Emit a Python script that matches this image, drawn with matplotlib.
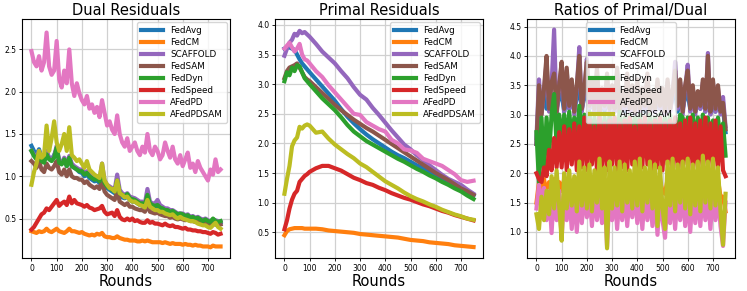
import numpy as np
import matplotlib.pyplot as plt

methods = ["FedAvg", "FedCM", "SCAFFOLD", "FedSAM", "FedDyn", "FedSpeed", "AFedPD", "AFedPDSAM"]
colors = ["tab:blue", "tab:orange", "tab:purple", "tab:brown",
          "tab:green", "tab:red", "tab:pink", "tab:olive"]

# dual residuals, one value every 10 rounds
rounds = np.arange(0, 751, 10)

dual_fedavg = [1.36, 1.30, 1.25, 1.32, 1.22, 1.20, 1.28, 1.22, 1.20, 1.25,
               1.32, 1.18, 1.15, 1.20, 1.12, 1.22, 1.12, 1.10, 1.08, 1.05,
               1.04, 1.00, 1.02, 0.98, 0.96, 0.94, 0.95, 0.92, 1.02, 0.90,
               0.86, 0.84, 0.82, 0.80, 0.88, 0.78, 0.75, 0.74, 0.76, 0.72,
               0.70, 0.70, 0.68, 0.66, 0.65, 0.64, 0.72, 0.65, 0.63, 0.62,
               0.62, 0.60, 0.60, 0.58, 0.57, 0.55, 0.56, 0.54, 0.52, 0.53,
               0.52, 0.50, 0.51, 0.49, 0.50, 0.48, 0.49, 0.47, 0.46, 0.47,
               0.45, 0.44, 0.46, 0.45, 0.44, 0.45]
dual_fedcm = [0.35, 0.34, 0.33, 0.35, 0.34, 0.35, 0.38, 0.35, 0.34, 0.36,
              0.38, 0.35, 0.34, 0.33, 0.35, 0.38, 0.35, 0.35, 0.34, 0.33,
              0.34, 0.32, 0.31, 0.30, 0.31, 0.30, 0.32, 0.31, 0.33, 0.29,
              0.28, 0.28, 0.27, 0.27, 0.29, 0.27, 0.26, 0.25, 0.25, 0.24,
              0.24, 0.24, 0.23, 0.23, 0.24, 0.23, 0.24, 0.23, 0.22, 0.22,
              0.22, 0.22, 0.21, 0.22, 0.21, 0.20, 0.21, 0.20, 0.20, 0.20,
              0.19, 0.20, 0.19, 0.19, 0.18, 0.19, 0.18, 0.18, 0.17, 0.17,
              0.17, 0.16, 0.18, 0.17, 0.17, 0.17]
dual_scaffold = [1.30, 1.26, 1.22, 1.30, 1.20, 1.18, 1.30, 1.22, 1.20, 1.24,
                 1.36, 1.18, 1.16, 1.22, 1.14, 1.24, 1.15, 1.12, 1.10, 1.08,
                 1.08, 1.04, 1.06, 1.02, 1.00, 0.98, 1.00, 0.96, 1.15, 0.95,
                 0.90, 0.88, 0.86, 0.84, 1.02, 0.84, 0.80, 0.78, 0.80, 0.76,
                 0.75, 0.74, 0.72, 0.70, 0.70, 0.68, 0.85, 0.70, 0.68, 0.68,
                 0.72, 0.66, 0.64, 0.62, 0.62, 0.60, 0.60, 0.58, 0.56, 0.56,
                 0.56, 0.54, 0.55, 0.52, 0.53, 0.51, 0.52, 0.50, 0.49, 0.50,
                 0.48, 0.47, 0.49, 0.48, 0.47, 0.46]
dual_fedsam = [1.18, 1.15, 1.10, 1.18, 1.08, 1.05, 1.15, 1.10, 1.08, 1.12,
               1.18, 1.05, 1.02, 1.08, 1.00, 1.08, 1.00, 0.98, 0.98, 0.96,
               0.96, 0.92, 0.94, 0.90, 0.88, 0.86, 0.88, 0.85, 0.95, 0.82,
               0.78, 0.76, 0.74, 0.72, 0.82, 0.70, 0.68, 0.66, 0.68, 0.64,
               0.64, 0.62, 0.61, 0.60, 0.60, 0.58, 0.66, 0.58, 0.57, 0.56,
               0.57, 0.55, 0.54, 0.53, 0.53, 0.51, 0.52, 0.50, 0.49, 0.50,
               0.49, 0.48, 0.49, 0.47, 0.47, 0.46, 0.46, 0.45, 0.44, 0.45,
               0.43, 0.42, 0.44, 0.43, 0.42, 0.43]
dual_feddyn = [1.30, 1.24, 1.20, 1.28, 1.18, 1.16, 1.26, 1.20, 1.18, 1.22,
               1.34, 1.16, 1.14, 1.20, 1.12, 1.22, 1.12, 1.10, 1.08, 1.06,
               1.06, 1.02, 1.04, 1.00, 0.98, 0.96, 0.97, 0.94, 1.08, 0.92,
               0.88, 0.86, 0.84, 0.82, 0.95, 0.80, 0.78, 0.76, 0.79, 0.74,
               0.73, 0.72, 0.70, 0.68, 0.68, 0.66, 0.78, 0.68, 0.66, 0.65,
               0.66, 0.63, 0.62, 0.60, 0.60, 0.58, 0.59, 0.57, 0.55, 0.56,
               0.55, 0.53, 0.54, 0.51, 0.52, 0.50, 0.51, 0.49, 0.47, 0.49,
               0.47, 0.46, 0.50, 0.47, 0.46, 0.47]
dual_fedspeed = [0.37, 0.40, 0.45, 0.50, 0.55, 0.57, 0.62, 0.60, 0.64, 0.68,
                 0.72, 0.65, 0.68, 0.70, 0.66, 0.76, 0.68, 0.72, 0.68, 0.67,
                 0.66, 0.64, 0.66, 0.63, 0.62, 0.60, 0.61, 0.62, 0.65, 0.58,
                 0.55, 0.56, 0.57, 0.53, 0.60, 0.52, 0.49, 0.48, 0.50, 0.48,
                 0.50, 0.47, 0.48, 0.46, 0.45, 0.45, 0.48, 0.45, 0.46, 0.44,
                 0.44, 0.43, 0.42, 0.44, 0.42, 0.41, 0.42, 0.40, 0.40, 0.39,
                 0.38, 0.39, 0.37, 0.37, 0.36, 0.36, 0.35, 0.35, 0.34, 0.34,
                 0.33, 0.32, 0.34, 0.33, 0.31, 0.32]
dual_afedpd = [2.48, 2.35, 2.30, 2.42, 2.25, 2.35, 2.70, 2.30, 2.20, 2.25,
               2.60, 2.15, 2.05, 2.25, 2.10, 2.50, 2.10, 1.95, 2.10, 1.98,
               1.90, 1.85, 1.95, 1.80, 1.85, 1.75, 1.82, 1.70, 1.90, 1.75,
               1.60, 1.65, 1.55, 1.50, 1.72, 1.50, 1.40, 1.35, 1.45, 1.30,
               1.35, 1.40, 1.30, 1.25, 1.35, 1.28, 1.50, 1.30, 1.25, 1.35,
               1.30, 1.20, 1.25, 1.40, 1.30, 1.22, 1.35, 1.20, 1.15, 1.25,
               1.12, 1.20, 1.28, 1.10, 1.15, 1.05, 1.18, 1.10, 1.05, 1.00,
               0.95, 1.08, 1.02, 1.20, 1.05, 1.08]
dual_afedpdsam = [0.90, 1.05, 1.15, 1.30, 1.22, 1.25, 1.60, 1.30, 1.45, 1.65,
                  1.40, 1.30, 1.38, 1.50, 1.30, 1.58, 1.25, 1.22, 1.18, 1.20,
                  1.15, 1.10, 1.18, 1.08, 1.05, 1.02, 1.00, 0.98, 1.15, 0.95,
                  0.90, 0.86, 0.85, 0.82, 0.95, 0.80, 0.78, 0.75, 0.76, 0.72,
                  0.70, 0.70, 0.68, 0.66, 0.65, 0.63, 0.72, 0.64, 0.62, 0.60,
                  0.60, 0.58, 0.58, 0.56, 0.55, 0.54, 0.55, 0.52, 0.50, 0.52,
                  0.50, 0.49, 0.48, 0.47, 0.47, 0.46, 0.44, 0.43, 0.42, 0.42,
                  0.40, 0.39, 0.42, 0.45, 0.40, 0.38]

# primal residuals (smooth curves), denser at the start
rounds_p = np.array([0, 10, 20, 30, 40, 50, 60, 70, 80, 90, 100] + list(range(125, 751, 25)))

primal_fedavg = [3.60, 3.62, 3.62, 3.60, 3.58, 3.50, 3.42, 3.35, 3.30, 3.25, 3.20,
                 3.08, 2.96, 2.84, 2.72, 2.58, 2.45, 2.34, 2.24, 2.15, 2.07,
                 2.00, 1.93, 1.86, 1.80, 1.75, 1.69, 1.63, 1.58, 1.52, 1.47,
                 1.41, 1.36, 1.30, 1.24, 1.18, 1.12]
primal_fedcm = [0.45, 0.52, 0.55, 0.56, 0.57, 0.57, 0.57, 0.57, 0.56, 0.56, 0.56,
                0.56, 0.55, 0.53, 0.52, 0.51, 0.50, 0.49, 0.47, 0.46, 0.45,
                0.44, 0.43, 0.42, 0.41, 0.39, 0.37, 0.36, 0.35, 0.33, 0.32,
                0.31, 0.30, 0.28, 0.27, 0.26, 0.25]
primal_scaffold = [3.48, 3.60, 3.70, 3.75, 3.85, 3.82, 3.90, 3.86, 3.88, 3.84, 3.80,
                   3.68, 3.55, 3.45, 3.35, 3.22, 3.10, 2.95, 2.82, 2.74, 2.60,
                   2.48, 2.35, 2.22, 2.10, 1.98, 1.90, 1.80, 1.72, 1.63, 1.55,
                   1.47, 1.40, 1.35, 1.30, 1.22, 1.15]
primal_fedsam = [3.10, 3.22, 3.28, 3.30, 3.32, 3.35, 3.28, 3.20, 3.12, 3.08, 3.05,
                 2.95, 2.85, 2.75, 2.65, 2.56, 2.48, 2.40, 2.33, 2.26, 2.20,
                 2.13, 2.06, 1.99, 1.92, 1.85, 1.78, 1.71, 1.64, 1.57, 1.50,
                 1.44, 1.38, 1.31, 1.24, 1.19, 1.13]
primal_feddyn = [3.05, 3.20, 3.15, 3.28, 3.22, 3.32, 3.30, 3.20, 3.10, 3.05, 3.00,
                 2.88, 2.76, 2.66, 2.56, 2.44, 2.31, 2.20, 2.12, 2.04, 1.98,
                 1.92, 1.86, 1.80, 1.74, 1.69, 1.63, 1.57, 1.52, 1.46, 1.41,
                 1.35, 1.30, 1.24, 1.19, 1.12, 1.06]
primal_fedspeed = [0.55, 0.70, 0.90, 1.05, 1.15, 1.20, 1.35, 1.40, 1.45, 1.48, 1.52,
                   1.58, 1.62, 1.62, 1.58, 1.54, 1.48, 1.42, 1.38, 1.33, 1.30,
                   1.25, 1.21, 1.16, 1.12, 1.08, 1.05, 1.01, 0.97, 0.94, 0.90,
                   0.86, 0.83, 0.79, 0.76, 0.73, 0.70]
primal_afedpd = [3.60, 3.65, 3.70, 3.62, 3.55, 3.60, 3.68, 3.50, 3.42, 3.40, 3.35,
                 3.22, 3.12, 2.98, 2.86, 2.74, 2.62, 2.50, 2.48, 2.36, 2.30,
                 2.24, 2.20, 2.06, 2.00, 1.90, 1.88, 1.84, 1.74, 1.70, 1.66,
                 1.62, 1.55, 1.48, 1.38, 1.35, 1.37]
primal_afedpdsam = [1.15, 1.40, 1.62, 1.95, 2.05, 2.10, 2.28, 2.25, 2.30, 2.32, 2.30,
                    2.18, 2.20, 2.08, 1.98, 1.90, 1.82, 1.75, 1.66, 1.60, 1.52,
                    1.44, 1.36, 1.30, 1.24, 1.17, 1.11, 1.06, 1.02, 0.97, 0.93,
                    0.88, 0.84, 0.80, 0.77, 0.73, 0.71]

# primal/dual ratios, one value every 10 rounds
ratio_fedavg = [2.50, 3.30, 3.05, 3.35, 3.10, 3.30, 3.05, 3.35, 3.10, 3.30,
                3.35, 3.05, 3.30, 3.10, 3.35, 3.05, 3.30, 3.40, 3.10, 3.30,
                3.35, 3.10, 3.30, 3.05, 3.35, 3.10, 3.30, 3.05, 3.35, 3.10,
                3.30, 3.05, 3.35, 3.10, 3.30, 3.05, 3.35, 3.10, 3.30, 3.05,
                3.35, 3.10, 3.30, 3.05, 3.35, 3.10, 3.30, 3.05, 3.35, 3.10,
                3.30, 3.05, 3.35, 3.10, 3.30, 3.40, 3.05, 3.35, 3.10, 3.30,
                3.35, 3.10, 3.30, 3.05, 3.30, 3.10, 3.35, 3.05, 3.40, 3.10,
                3.35, 3.05, 3.30, 3.10, 3.10, 2.70]
ratio_fedcm = [1.50, 1.85, 1.60, 1.90, 1.65, 1.85, 1.70, 1.90, 1.65, 1.85,
               1.70, 1.90, 1.65, 1.85, 1.70, 1.90, 1.65, 1.85, 1.70, 1.90,
               1.65, 1.85, 1.70, 1.90, 1.65, 1.85, 1.70, 1.90, 1.60, 1.85,
               1.70, 1.90, 1.65, 1.85, 1.70, 1.90, 1.65, 1.85, 1.70, 1.90,
               1.65, 1.85, 1.70, 1.90, 1.65, 1.85, 1.70, 1.90, 1.65, 1.85,
               1.70, 1.65, 1.90, 1.70, 1.85, 1.65, 1.90, 1.70, 1.85, 1.65,
               1.90, 1.70, 1.85, 1.65, 1.90, 1.70, 1.85, 1.65, 1.90, 1.70,
               1.85, 1.65, 1.90, 1.60, 1.60, 1.35]
ratio_scaffold = [2.60, 3.60, 3.00, 3.40, 3.90, 3.05, 3.50, 4.45, 3.00, 3.45,
                  3.85, 3.05, 3.75, 3.10, 3.55, 3.00, 3.45, 4.15, 3.05, 3.40,
                  3.95, 3.10, 3.55, 3.05, 3.75, 3.00, 3.40, 3.10, 3.65, 3.05,
                  3.45, 3.05, 3.75, 3.00, 3.35, 3.10, 3.65, 3.05, 3.45, 3.00,
                  3.55, 3.05, 3.40, 3.10, 3.65, 3.00, 3.35, 3.05, 3.55, 3.10,
                  3.40, 3.00, 3.55, 3.05, 3.35, 3.90, 3.10, 3.55, 3.00, 3.45,
                  3.85, 3.05, 3.45, 3.00, 3.35, 3.10, 3.55, 3.05, 4.05, 3.00,
                  3.55, 3.05, 3.45, 3.00, 3.30, 2.80]
ratio_fedsam = [2.50, 3.50, 3.00, 3.45, 4.00, 3.10, 3.55, 3.70, 3.05, 3.50,
                3.90, 3.10, 3.80, 3.15, 3.60, 3.05, 3.50, 4.00, 3.10, 3.45,
                3.90, 3.15, 3.60, 3.10, 3.80, 3.05, 3.45, 3.15, 3.70, 3.10,
                3.50, 3.10, 3.80, 3.05, 3.40, 3.15, 3.70, 3.10, 3.50, 3.05,
                3.60, 3.10, 3.45, 3.15, 3.70, 3.05, 3.40, 3.10, 3.60, 3.15,
                3.45, 3.05, 3.60, 3.10, 3.40, 3.75, 3.15, 3.60, 3.05, 3.50,
                3.75, 3.10, 3.50, 3.05, 3.40, 3.15, 3.60, 3.10, 4.00, 3.05,
                3.60, 3.10, 3.50, 3.05, 3.20, 2.75]
ratio_feddyn = [2.70, 1.85, 2.95, 2.00, 2.95, 2.30, 3.00, 3.35, 2.45, 3.00,
                2.55, 3.00, 2.50, 3.05, 2.55, 2.95, 2.50, 3.15, 2.55, 3.00,
                2.55, 3.05, 2.50, 2.95, 2.55, 3.00, 2.50, 2.95, 2.55, 3.00,
                2.50, 2.95, 2.55, 3.05, 2.50, 2.95, 2.55, 3.00, 2.50, 2.95,
                2.55, 3.00, 2.50, 2.95, 2.55, 3.00, 2.50, 2.95, 2.55, 3.00,
                2.50, 2.95, 2.55, 3.00, 2.50, 2.90, 2.55, 3.00, 2.95, 2.50,
                2.95, 2.55, 3.00, 2.50, 2.95, 2.55, 3.00, 2.50, 2.95, 2.55,
                2.90, 2.50, 2.95, 2.55, 2.85, 2.30]
ratio_fedspeed = [2.00, 1.90, 1.85, 2.10, 1.95, 2.40, 2.05, 2.60, 2.10, 2.70,
                  2.10, 2.80, 2.05, 2.75, 2.15, 2.85, 2.05, 2.80, 2.10, 2.95,
                  2.05, 2.90, 2.15, 2.80, 2.05, 2.95, 2.10, 2.85, 2.05, 2.90,
                  2.15, 2.95, 2.05, 2.85, 2.10, 2.90, 2.05, 2.95, 2.15, 2.80,
                  2.05, 2.90, 2.10, 2.95, 2.15, 2.85, 2.05, 2.90, 2.10, 2.95,
                  2.05, 2.85, 2.15, 2.90, 2.05, 2.95, 2.10, 2.85, 2.05, 2.90,
                  2.15, 2.95, 2.05, 2.85, 2.10, 2.90, 2.05, 2.95, 2.15, 2.85,
                  2.05, 2.90, 2.10, 2.80, 2.05, 1.95]
ratio_afedpd = [1.40, 1.80, 1.45, 1.75, 1.20, 1.70, 0.98, 1.75, 1.20, 1.70,
                0.88, 1.70, 1.20, 1.65, 1.05, 1.70, 1.00, 1.65, 1.15, 1.70,
                1.25, 1.65, 1.10, 1.70, 1.20, 1.65, 1.15, 1.70, 0.75, 1.65,
                1.20, 1.70, 1.05, 1.65, 1.20, 1.70, 1.10, 1.65, 1.25, 1.70,
                1.15, 1.65, 1.05, 1.70, 1.20, 1.65, 1.10, 1.70, 0.95, 1.65,
                1.20, 0.90, 1.65, 1.15, 1.70, 1.05, 1.65, 1.20, 1.70, 1.10,
                1.65, 1.00, 1.70, 1.15, 1.65, 1.10, 1.70, 1.20, 1.65, 1.05,
                1.70, 1.20, 1.65, 1.10, 0.76, 1.50]
ratio_afedpdsam = [1.30, 1.05, 1.60, 1.20, 1.70, 1.30, 1.95, 1.40, 2.05, 1.45,
                   0.85, 2.00, 1.40, 2.05, 1.45, 1.95, 1.35, 2.20, 1.45, 2.10,
                   1.40, 2.15, 1.35, 2.05, 1.50, 2.25, 1.40, 2.10, 0.72, 2.20,
                   1.40, 2.10, 1.45, 2.20, 1.35, 2.15, 1.50, 2.05, 1.40, 2.20,
                   1.45, 2.25, 1.35, 2.10, 1.50, 2.20, 1.40, 2.15, 1.10, 2.10,
                   1.40, 1.05, 2.20, 1.45, 2.25, 1.35, 2.15, 1.50, 2.20, 1.40,
                   2.25, 1.30, 2.15, 1.45, 2.20, 1.35, 2.30, 1.50, 2.20, 1.40,
                   2.25, 1.45, 2.10, 1.35, 0.78, 1.65]

dual = [dual_fedavg, dual_fedcm, dual_scaffold, dual_fedsam,
        dual_feddyn, dual_fedspeed, dual_afedpd, dual_afedpdsam]
primal = [primal_fedavg, primal_fedcm, primal_scaffold, primal_fedsam,
          primal_feddyn, primal_fedspeed, primal_afedpd, primal_afedpdsam]
ratio = [ratio_fedavg, ratio_fedcm, ratio_scaffold, ratio_fedsam,
         ratio_feddyn, ratio_fedspeed, ratio_afedpd, ratio_afedpdsam]

panels = [
    ("Dual Residuals", rounds, dual, (0.03, 2.86), [0.5, 1.0, 1.5, 2.0, 2.5], "upper right"),
    ("Primal Residuals", rounds_p, primal, (0.06, 4.10), [0.5, 1.0, 1.5, 2.0, 2.5, 3.0, 3.5, 4.0], "upper right"),
    ("Ratios of Primal/Dual", rounds, ratio, (0.55, 4.63), [1.0, 1.5, 2.0, 2.5, 3.0, 3.5, 4.0, 4.5], "upper center"),
]

fig = plt.figure(figsize=(7.47, 2.91), dpi=100)
lefts = [22, 275, 527]

for left, (title, x, series, ylim, yticks, loc) in zip(lefts, panels):
    ax = fig.add_axes([left / 747, 32.7 / 291, 208 / 747, 239.3 / 291])
    for name, col, ys in zip(methods, colors, series):
        ax.plot(x, ys, color=col, lw=3, label=name)
    ax.set_xlim(-37.5, 787.5)
    ax.set_ylim(*ylim)
    ax.set_xticks(range(0, 701, 100))
    ax.set_yticks(yticks)
    ax.tick_params(labelsize=5.5, length=2, width=0.6, pad=2)
    ax.grid(True, color="#d0d0d0", lw=0.9)
    ax.set_title(title, fontsize=10.5, pad=3)
    ax.set_xlabel("Rounds", fontsize=10.5, labelpad=1)
    ax.legend(loc=loc, fontsize=6.3, labelspacing=0.35, handlelength=2.6,
              borderaxespad=0.4)

fig.savefig("out.png", dpi=100)
